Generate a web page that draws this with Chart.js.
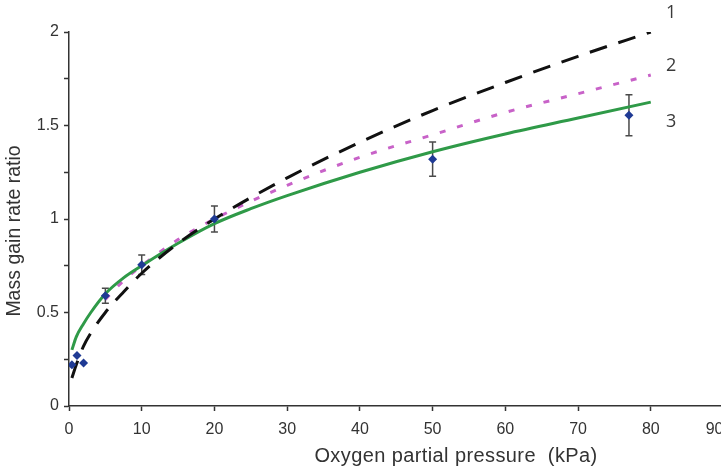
<!DOCTYPE html>
<html>
<head>
<meta charset="utf-8">
<script src="https://cdn.jsdelivr.net/npm/chart.js"></script>
<style>
  html, body { margin: 0; padding: 0; background: #fff; width: 721px; height: 467px; overflow: hidden; }
  #wrap { width: 740px; height: 467px; }
</style>
</head>
<body>
<div id="wrap"><canvas id="chart" width="740" height="467"></canvas></div>
<script>
// measured points (mean + error half-width)
const pointsX = [0.4, 1.1, 2, 5, 10, 20, 50, 77];
const pointsY = [0.22, 0.27, 0.23, 0.59, 0.755, 1.0, 1.32, 1.555];
const pointsErr = [0, 0, 0, 0.04, 0.052, 0.07, 0.092, 0.11];

// curve 1 (black dashed)
const curve1X = [0.4, 1, 2, 3, 5, 7.5, 10, 15, 20, 30, 40, 50, 60, 70, 80];
const curve1Y = [0.15, 0.22, 0.32, 0.39, 0.50, 0.61, 0.71, 0.87, 1.00, 1.22, 1.41, 1.58, 1.73, 1.87, 2.00];

// curve 2 (magenta dotted)
const curve2X = [5, 7.5, 10, 15, 20, 30, 40, 50, 60, 70, 80];
const curve2Y = [0.57, 0.67, 0.75, 0.89, 1.00, 1.18, 1.33, 1.45, 1.57, 1.67, 1.77];

// curve 3 (green solid)
const curve3X = [0.4, 1, 2, 3, 5, 7.5, 10, 15, 20, 25, 30, 40, 50, 60, 70, 80];
const curve3Y = [0.30, 0.37, 0.44, 0.50, 0.60, 0.685, 0.75, 0.87, 0.975, 1.055, 1.125, 1.25, 1.36, 1.455, 1.54, 1.625];

// curve labels at the right
const curveLabels = ['1', '2', '3'];
const curveLabelX = 82.8;
const curveLabelY = [2.10, 1.82, 1.52];

const xTitle = 'Oxygen partial pressure  (kPa)';
const yTitle = 'Mass gain rate ratio';

const toXY = (xs, ys) => xs.map((x, i) => ({ x: x, y: ys[i] }));

// error bars under the diamonds
const errorBars = {
    id: 'errorBars',
    beforeDatasetsDraw(chart) {
        const ctx = chart.ctx;
        const xs = chart.scales.x, ys = chart.scales.y;
        ctx.save();
        ctx.strokeStyle = '#4a4a4a';
        ctx.lineWidth = 1.5;
        pointsX.forEach((x, i) => {
            if (!pointsErr[i]) return;
            const px = xs.getPixelForValue(x);
            const top = ys.getPixelForValue(pointsY[i] + pointsErr[i]);
            const bot = ys.getPixelForValue(pointsY[i] - pointsErr[i]);
            ctx.beginPath();
            ctx.moveTo(px, top); ctx.lineTo(px, bot);
            ctx.moveTo(px - 3.5, top); ctx.lineTo(px + 3.5, top);
            ctx.moveTo(px - 3.5, bot); ctx.lineTo(px + 3.5, bot);
            ctx.stroke();
        });
        ctx.restore();
    }
};

// axis titles, curve numbers and the clipped last tick label
const extraText = {
    id: 'extraText',
    afterDraw(chart) {
        const ctx = chart.ctx;
        const xs = chart.scales.x, ys = chart.scales.y;
        ctx.save();
        ctx.fillStyle = '#333';

        // last x label pushed inside, same line as the others
        const items = xs.getLabelItems();
        const ref = items[0];
        ctx.font = '16px "Liberation Sans", Arial, sans-serif';
        ctx.textAlign = 'right';
        ctx.textBaseline = ref.options.textBaseline;
        ctx.fillText('90', xs.getPixelForValue(90), ref.options.translation[1] + ref.textOffset);

        ctx.font = '20px "Liberation Sans", Arial, sans-serif';
        ctx.textAlign = 'center';
        ctx.textBaseline = 'middle';
        ctx.letterSpacing = '0.4px';
        ctx.fillText(xTitle, 456, 456);
        ctx.letterSpacing = '0px';

        ctx.save();
        ctx.translate(15, 231);
        ctx.rotate(-Math.PI / 2);
        ctx.font = '19.5px "Liberation Sans", Arial, sans-serif';
        ctx.fillText(yTitle, 0, 0);
        ctx.restore();

        ctx.font = '18px "Open Sans", sans-serif';
        ctx.fillStyle = '#3a3a3a';
        curveLabels.forEach((t, i) => {
            ctx.fillText(t, xs.getPixelForValue(curveLabelX), ys.getPixelForValue(curveLabelY[i]));
        });
        ctx.restore();
    }
};

const tickFont = { family: '"Liberation Sans", Arial, sans-serif', size: 16 };

new Chart(document.getElementById('chart'), {
    type: 'scatter',
    data: {
        datasets: [
            {
                label: 'points',
                data: toXY(pointsX, pointsY),
                pointStyle: 'rectRot',
                pointRadius: 4.5,
                backgroundColor: '#1f3a94',
                borderColor: '#1f3a94',
                borderWidth: 0,
                showLine: false,
                order: 0
            },
            {
                label: '1',
                data: toXY(curve1X, curve1Y),
                showLine: true,
                borderColor: '#111',
                borderWidth: 3,
                borderDash: [18, 12],
                pointRadius: 0,
                cubicInterpolationMode: 'monotone',
                order: 1
            },
            {
                label: '3',
                data: toXY(curve3X, curve3Y),
                showLine: true,
                borderColor: '#2f9a48',
                borderWidth: 3,
                pointRadius: 0,
                cubicInterpolationMode: 'monotone',
                order: 2
            },
            {
                label: '2',
                data: toXY(curve2X, curve2Y),
                showLine: true,
                borderColor: '#c862c8',
                borderWidth: 3,
                borderDash: [6, 12],
                pointRadius: 0,
                cubicInterpolationMode: 'monotone',
                order: 3
            }
        ]
    },
    options: {
        responsive: false,
        animation: false,
        layout: { padding: { top: 32, right: 16.5, left: 0, bottom: 0 } },
        plugins: {
            legend: { display: false },
            tooltip: { enabled: false }
        },
        scales: {
            x: {
                type: 'linear',
                min: 0,
                max: 90,
                afterFit: s => { s.height = 61; },
                ticks: {
                    stepSize: 10,
                    color: '#333',
                    font: tickFont,
                    padding: 9,
                    maxRotation: 0,
                    callback: v => (v === 90 ? '' : v)
                },
                grid: { drawOnChartArea: false, tickLength: 5, color: '#333', tickWidth: 1.5 },
                border: { display: true, color: '#333', width: 1.5 }
            },
            y: {
                min: 0,
                max: 2,
                afterFit: s => { s.width = 69; },
                ticks: {
                    stepSize: 0.25,
                    color: '#333',
                    font: tickFont,
                    padding: 5,
                    callback: v => (Math.abs(v * 2 - Math.round(v * 2)) < 1e-6 ? v : '')
                },
                grid: { drawOnChartArea: false, tickLength: 5, color: '#333', tickWidth: 1.5 },
                border: { display: true, color: '#333', width: 1.5 }
            }
        }
    },
    plugins: [errorBars, extraText]
});
</script>
</body>
</html>
